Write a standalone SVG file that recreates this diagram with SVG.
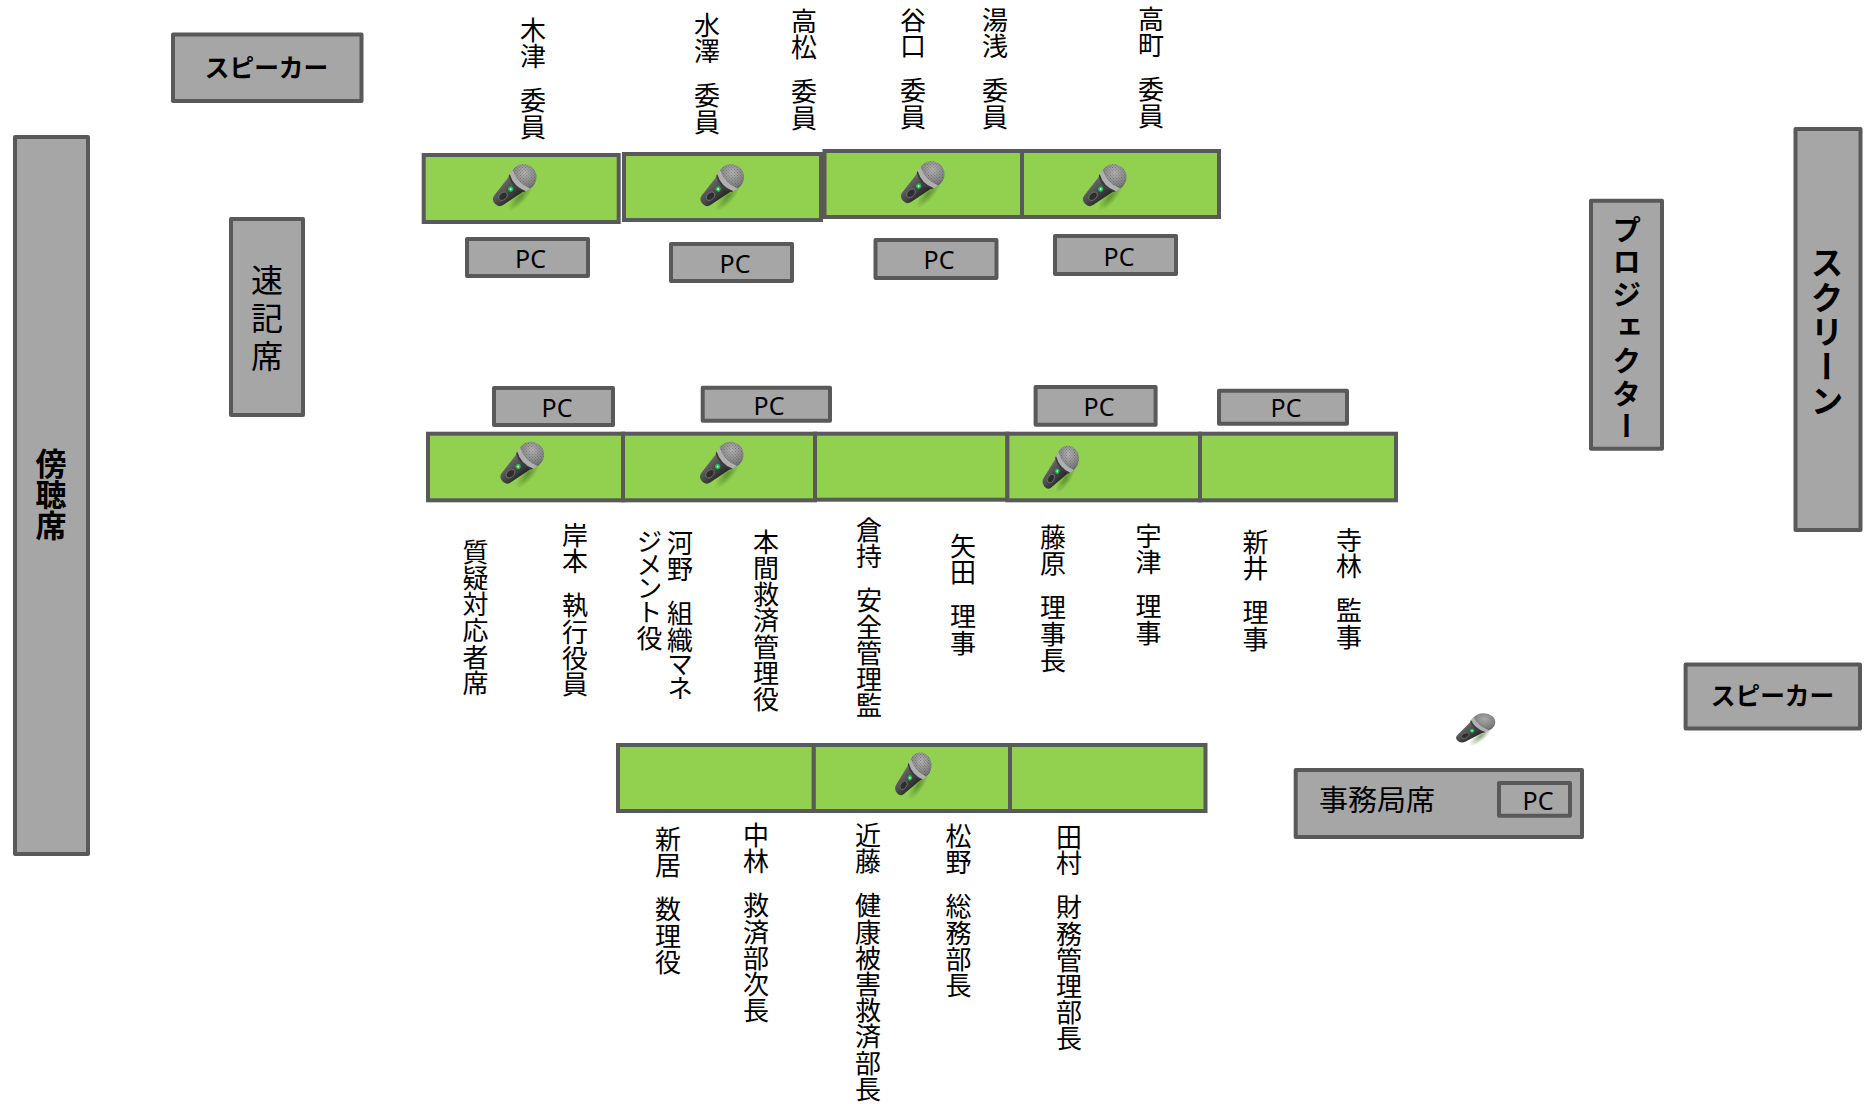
<svg xmlns="http://www.w3.org/2000/svg" xmlns:xlink="http://www.w3.org/1999/xlink" width="1867" height="1104" viewBox="0 0 1867 1104">
<style>
text{font-family:"Noto Sans CJK JP","Noto Sans",sans-serif;fill:#000}
.g{fill:#a6a6a6;stroke:#595959;stroke-width:4;stroke-linejoin:round}
.d{fill:#92d050;stroke:#595959;stroke-width:4;stroke-linejoin:miter}
.pc{font-family:"Noto Sans",sans-serif;font-size:25px;text-anchor:middle;dominant-baseline:central}
.v{writing-mode:vertical-rl;font-size:26px;letter-spacing:.2px;word-spacing:12px}
.p{font-feature-settings:"vpal"}
.b{font-weight:700}
.vb{writing-mode:vertical-rl;font-weight:700}
</style>
<defs>
<radialGradient id="hd" cx="0.4" cy="0.35" r="0.75"><stop offset="0" stop-color="#b8b8b8"/><stop offset="0.7" stop-color="#808080"/><stop offset="1" stop-color="#4e4e4e"/></radialGradient>
<pattern id="dots" width="2.2" height="2.2" patternUnits="userSpaceOnUse"><circle cx="1.1" cy="1.1" r=".6" fill="#3a3a3a" fill-opacity=".55"/></pattern>
<linearGradient id="bd" x1="0" y1="0" x2="1" y2="0"><stop offset="0" stop-color="#6c6c6c"/><stop offset="0.45" stop-color="#4c4c4c"/><stop offset="1" stop-color="#222"/></linearGradient>
<radialGradient id="sh"><stop offset="0" stop-color="#3c6a1c" stop-opacity="0.6"/><stop offset="1" stop-color="#3c6a1c" stop-opacity="0"/></radialGradient>
<g id="mic">
<ellipse cx="12" cy="4" rx="6" ry="18" fill="url(#sh)" transform="rotate(-6)"/>
<path d="M-11-7L-6.5 21Q-5.5 26 0 26Q5.5 26 6.5 21L11-7Z" fill="url(#bd)"/>
<ellipse cx="0" cy="-13" rx="13" ry="13" fill="url(#hd)"/>
<ellipse cx="0" cy="-13" rx="13" ry="13" fill="url(#dots)"/>
<path d="M-12.9-10Q0-4 12.9-10L11.8-5Q0 1-11.8-5Z" fill="#b0b0b0"/>
<path d="M-11.8-5Q0 1 11.8-5L11-3Q0 3-11-3Z" fill="#3a3a3a"/>
<circle cx="0" cy="4.5" r="2.6" fill="#1fbf55"/><circle cx="0" cy="4.5" r="1" fill="#b8ffd0"/>
<ellipse cx="0" cy="15" rx="3.4" ry="5" fill="#2e2e2e" stroke="#7a7a7a" stroke-width="0.8"/>
</g>
</defs>

<g id="speaker-left"><rect class="g" x="173" y="34.5" width="188.5" height="66.5"/><text class="b" x="266.5" y="77" font-size="24.7" text-anchor="middle">スピーカー</text></g>
<g id="audience"><rect class="g" x="15" y="137" width="73" height="717"/><text class="vb" x="51" y="448" font-size="31">傍聴席</text></g>
<g id="stenographer"><rect class="g" x="231" y="219" width="72" height="196"/><text x="267" y="264" font-size="32" style="writing-mode:vertical-rl;letter-spacing:6px">速記席</text></g>
<g id="projector"><rect class="g" x="1591" y="200.7" width="71" height="248"/><text class="vb" x="1626.7" y="215" font-size="29" style="letter-spacing:3.8px">プロジェクター</text></g>
<g id="screen"><rect class="g" x="1795.5" y="129" width="65" height="401"/><text class="vb" x="1827" y="246" font-size="33" style="letter-spacing:1.6px">スクリーン</text></g>
<g id="speaker-right"><rect class="g" x="1685.6" y="664.5" width="174.4" height="64"/><text class="b" x="1772.5" y="705" font-size="24.7" text-anchor="middle">スピーカー</text></g>

<g id="desk-row1">
<g id="r1d1"><rect class="d" x="423.7" y="155" width="195" height="67"/><use xlink:href="#mic" href="#mic" transform="translate(514 186) rotate(47)"/></g>
<g id="r1d2"><rect class="d" x="624" y="154" width="197" height="66"/><use xlink:href="#mic" href="#mic" transform="translate(721.5 186) rotate(47)"/></g>
<g id="r1d3"><rect class="d" x="824.5" y="151" width="197.5" height="66"/><use xlink:href="#mic" href="#mic" transform="translate(922 183) rotate(47)"/></g>
<g id="r1d4"><rect class="d" x="1022" y="151" width="197" height="66"/><use xlink:href="#mic" href="#mic" transform="translate(1104 186) rotate(47)"/></g>
</g>
<g id="pc-row1">
<g id="r1p1"><rect class="g" x="467" y="239" width="121" height="37"/><text class="pc" x="530.5" y="258">PC</text></g>
<g id="r1p2"><rect class="g" x="671" y="244" width="121" height="37"/><text class="pc" x="735" y="263">PC</text></g>
<g id="r1p3"><rect class="g" x="875.5" y="240" width="121" height="38"/><text class="pc" x="939" y="259">PC</text></g>
<g id="r1p4"><rect class="g" x="1055" y="236" width="121" height="38"/><text class="pc" x="1119" y="256">PC</text></g>
</g>
<g id="labels-row1">
<text class="v" x="533" y="17">木津 委員</text>
<text class="v" x="707" y="12">水澤 委員</text>
<text class="v" x="804" y="8">高松 委員</text>
<text class="v" x="913" y="7">谷口 委員</text>
<text class="v" x="995" y="7">湯浅 委員</text>
<text class="v" x="1151" y="6">高町 委員</text>
</g>

<g id="pc-row2">
<g id="r2p1"><rect class="g" x="494" y="388" width="119" height="37"/><text class="pc" x="557" y="407">PC</text></g>
<g id="r2p2"><rect class="g" x="702.7" y="387.7" width="127.3" height="33"/><text class="pc" x="769" y="404.7">PC</text></g>
<g id="r2p3"><rect class="g" x="1035.6" y="387" width="120" height="37.7"/><text class="pc" x="1099" y="406">PC</text></g>
<g id="r2p4"><rect class="g" x="1219" y="390.7" width="128" height="33"/><text class="pc" x="1286" y="407">PC</text></g>
</g>
<g id="desk-row2">
<g id="r2d1"><rect class="d" x="428" y="433.7" width="195" height="66.6"/><use xlink:href="#mic" href="#mic" transform="translate(521.5 463.5) rotate(47)"/></g>
<g id="r2d2"><rect class="d" x="623" y="433.7" width="192" height="66.6"/><use xlink:href="#mic" href="#mic" transform="translate(721 463.5) rotate(47)"/></g>
<g id="r2d3"><rect class="d" x="815" y="433.7" width="192.4" height="66"/></g>
<g id="r2d4"><rect class="d" x="1007.4" y="433.7" width="192.6" height="66.6"/><use xlink:href="#mic" href="#mic" transform="translate(1060 468) scale(.85 1) rotate(45)"/></g>
<g id="r2d5"><rect class="d" x="1200" y="433.7" width="196" height="66.6"/></g>
</g>
<g id="labels-row2">
<text class="v" x="475.5" y="539">質疑対応者席</text>
<text class="v" x="575" y="522">岸本 執行役員</text>
<text class="v p" x="680" y="530">河野 組織マネ</text>
<text class="v p" x="649.5" y="529">ジメント役</text>
<text class="v" x="766" y="529">本間救済管理役</text>
<text class="v" x="869" y="517">倉持 安全管理監</text>
<text class="v" x="963" y="533">矢田 理事</text>
<text class="v" x="1053" y="524">藤原 理事長</text>
<text class="v" x="1148.5" y="523">宇津 理事</text>
<text class="v" x="1255.6" y="529">新井 理事</text>
<text class="v" x="1349" y="527">寺林 監事</text>
</g>

<g id="desk-row3">
<g id="r3d1"><rect class="d" x="618" y="745" width="195.8" height="66"/></g>
<g id="r3d2"><rect class="d" x="813.8" y="745" width="196.2" height="66"/><use xlink:href="#mic" href="#mic" transform="translate(912.6 774.6) scale(.85 1) rotate(45)"/></g>
<g id="r3d3"><rect class="d" x="1010" y="745" width="195.5" height="66"/></g>
</g>
<g id="labels-row3">
<text class="v" x="668" y="826">新居 数理役</text>
<text class="v" x="756" y="822">中林 救済部次長</text>
<text class="v" x="868" y="822">近藤 健康被害救済部長</text>
<text class="v" x="958.6" y="823">松野 総務部長</text>
<text class="v" x="1069" y="824">田村 財務管理部長</text>
</g>

<g id="secretariat"><rect class="g" x="1295.7" y="770" width="286.3" height="67"/><text x="1319" y="811" font-size="29">事務局席</text>
<rect class="g" x="1499" y="783" width="71" height="32.7"/><text class="pc" x="1538" y="800">PC</text></g>
<g id="free-mic"><use xlink:href="#mic" href="#mic" transform="translate(1475 728.5) scale(.9 .7) rotate(47)"/></g>
</svg>
